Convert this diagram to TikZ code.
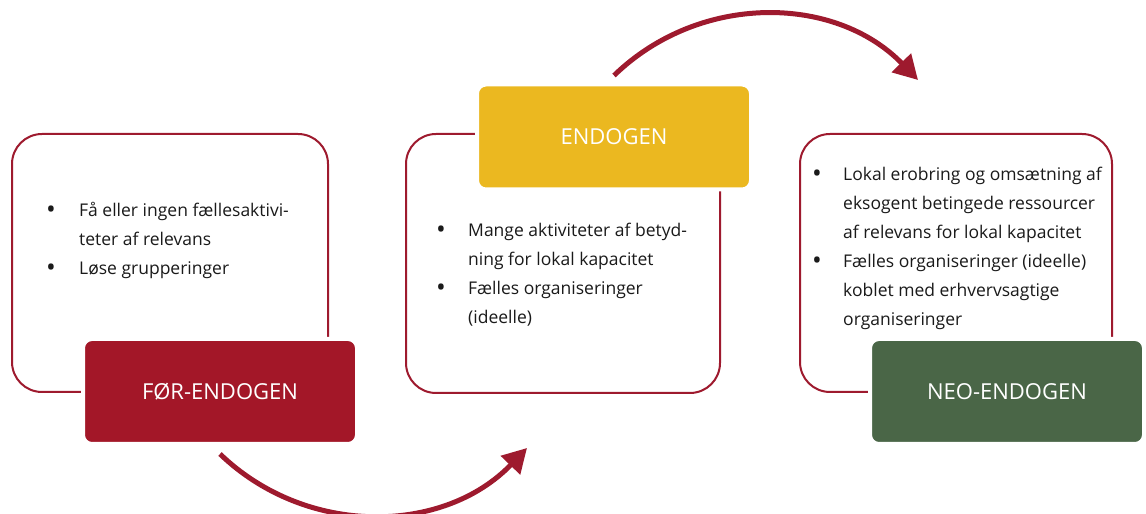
\documentclass[tikz,border=0pt]{standalone}
\usepackage{fontspec}
\setmainfont{Open Sans}
\usetikzlibrary{arrows.meta}
\definecolor{tagred}{HTML}{A31728}
\definecolor{framered}{HTML}{9E1A2E}
\definecolor{tagyellow}{HTML}{EBB820}
\definecolor{taggreen}{HTML}{4A6647}
\definecolor{bodytext}{HTML}{1A1A1A}
\newcommand\dotmark{\raisebox{-2pt}{\fontsize{26}{29}\selectfont\textbullet}}
\tikzset{
  panel/.style={draw=framered, line width=2pt, rounded corners=30pt, fill=white},
  tag/.style={draw=white, line width=4pt, rounded corners=9pt, text=white,
    font=\fontsize{22}{26}\selectfont, minimum width=274pt, minimum height=105pt},
  cycle arrow/.style={draw=framered, line width=5pt, -{Triangle[length=24pt,width=26pt]}},
  bullets/.style={anchor=base west, inner sep=0pt, text=bodytext, font=\fontsize{17.5}{29}\selectfont}
}
\begin{document}
\begin{tikzpicture}[x=1pt, y=1pt]
  \useasboundingbox (0,0) rectangle (1146,514);
  % Panels
  \node[panel, minimum width=316pt, minimum height=258pt] (p1) at (170,251) {};
  \node[panel, minimum width=314pt, minimum height=259pt] (p2) at (563,250.5) {};
  \node[panel, minimum width=312pt, minimum height=258pt] (p3) at (956,251) {};
  % Tags
  \node[tag, fill=tagred] (fe) at (220,122.5) {FØR-ENDOGEN};
  \node[tag, fill=tagyellow] (en) at (614,377) {ENDOGEN};
  \node[tag, fill=taggreen] (ne) at (1007,122.5) {NEO-ENDOGEN};
  % Bullet lists
  \node[bullets] (l1) at (46,297.5) {\begin{tabular}[t]{@{}p{33pt}@{}l@{}}
    \dotmark & Få eller ingen fællesaktivi-\\
             & teter af relevans\\
    \dotmark & Løse grupperinger
  \end{tabular}};
  \node[bullets] (l2) at (436,277.5) {\begin{tabular}[t]{@{}p{32pt}@{}l@{}}
    \dotmark & Mange aktiviteter af betyd-\\
             & ning for lokal kapacitet\\
    \dotmark & Fælles organiseringer\\
             & (ideelle)
  \end{tabular}};
  \node[bullets] (l3) at (812,333) {\begin{tabular}[t]{@{}p{31pt}@{}l@{}}
    \dotmark & Lokal erobring og omsætning af\\
             & eksogent betingede ressourcer\\
             & af relevans for lokal kapacitet\\
    \dotmark & Fælles organiseringer (ideelle)\\
             & koblet med erhvervsagtige\\
             & organiseringer
  \end{tabular}};
  % Cycle arrows
  \coordinate (tip1) at (527,66);
  \coordinate (tip2) at (918,434);
  \draw[cycle arrow] ([yshift=-8pt]fe.south) to[bend right=45] (tip1);
  \draw[cycle arrow] ([yshift=7pt]en.north) to[bend left=45] (tip2);
\end{tikzpicture}
\end{document}
